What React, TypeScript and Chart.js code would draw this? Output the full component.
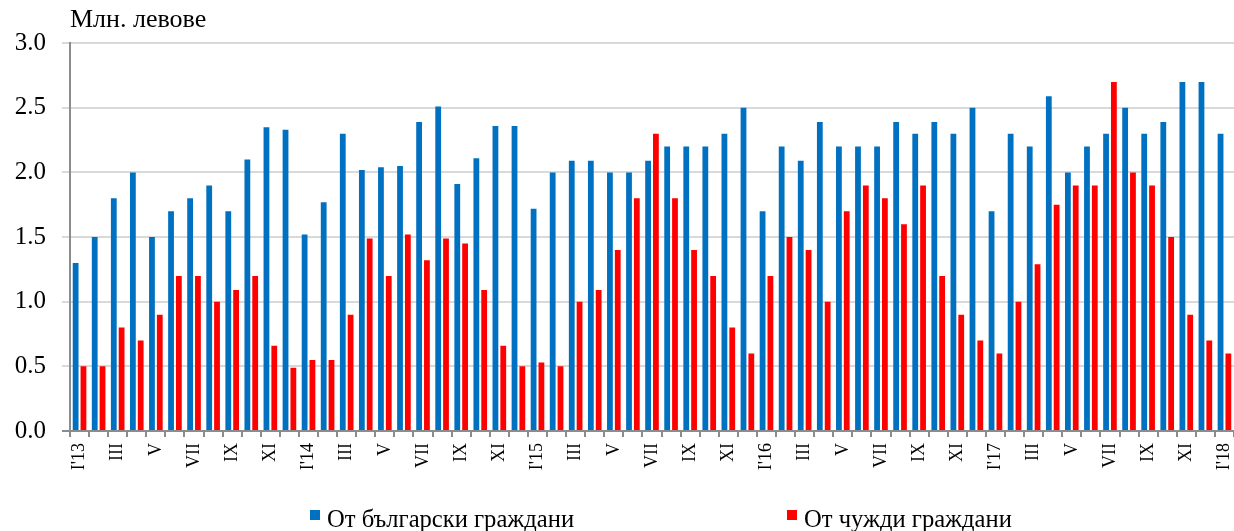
import React, { useEffect, useRef } from 'react';
import { Chart, registerables } from 'chart.js';

Chart.register(...registerables);

// Monthly categories, Jan 2013 – Jan 2018 (labels on every other month)
const tickLabels = [
  "I'13", '', 'III', '', 'V', '', 'VII', '', 'IX', '', 'XI', '',
  "I'14", '', 'III', '', 'V', '', 'VII', '', 'IX', '', 'XI', '',
  "I'15", '', 'III', '', 'V', '', 'VII', '', 'IX', '', 'XI', '',
  "I'16", '', 'III', '', 'V', '', 'VII', '', 'IX', '', 'XI', '',
  "I'17", '', 'III', '', 'V', '', 'VII', '', 'IX', '', 'XI', '',
  "I'18",
];

const bulgarianCitizens = [
  1.3, 1.5, 1.8, 2.0, 1.5, 1.7, 1.8, 1.9, 1.7, 2.1, 2.35, 2.33,
  1.52, 1.77, 2.3, 2.02, 2.04, 2.05, 2.39, 2.51, 1.91, 2.11, 2.36, 2.36,
  1.72, 2.0, 2.09, 2.09, 2.0, 2.0, 2.09, 2.2, 2.2, 2.2, 2.3, 2.5,
  1.7, 2.2, 2.09, 2.39, 2.2, 2.2, 2.2, 2.39, 2.3, 2.39, 2.3, 2.5,
  1.7, 2.3, 2.2, 2.59, 2.0, 2.2, 2.3, 2.5, 2.3, 2.39, 2.7, 2.7,
  2.3,
];

const foreignCitizens = [
  0.5, 0.5, 0.8, 0.7, 0.9, 1.2, 1.2, 1.0, 1.09, 1.2, 0.66, 0.49,
  0.55, 0.55, 0.9, 1.49, 1.2, 1.52, 1.32, 1.49, 1.45, 1.09, 0.66, 0.5,
  0.53, 0.5, 1.0, 1.09, 1.4, 1.8, 2.3, 1.8, 1.4, 1.2, 0.8, 0.6,
  1.2, 1.5, 1.4, 1.0, 1.7, 1.9, 1.8, 1.6, 1.9, 1.2, 0.9, 0.7,
  0.6, 1.0, 1.29, 1.75, 1.9, 1.9, 2.7, 2.0, 1.9, 1.5, 0.9, 0.7,
  0.6,
];

const seriesNames = ['От български граждани', 'От чужди граждани'];
const seriesColors = ['#0070C0', '#FF0000'];
const axisTitle = 'Млн. левове';

const FONT = '"Liberation Serif", "Times New Roman", serif';

const bottomLegend = {
  id: 'bottomLegend',
  afterDraw(chart: any, _args: any, opts: any) {
    const ctx = chart.ctx;
    ctx.save();
    ctx.font = `${opts.size}px ${FONT}`;
    ctx.textBaseline = 'alphabetic';
    ctx.textAlign = 'left';
    chart.data.datasets.forEach((ds: any, i: number) => {
      const x = opts.xs[i];
      ctx.fillStyle = ds.backgroundColor;
      ctx.fillRect(x, opts.boxTop, opts.box, opts.box);
      ctx.fillStyle = '#000';
      ctx.fillText(ds.label, x + opts.box + opts.gap, opts.baseline);
    });
    ctx.restore();
  },
};

export default function App() {
  const canvasRef = useRef<HTMLCanvasElement | null>(null);

  useEffect(() => {
    if (!canvasRef.current) return;
    Chart.defaults.font.family = FONT;
    Chart.defaults.color = '#000';

    const chart = new Chart(canvasRef.current, {
      type: 'bar',
      data: {
        labels: tickLabels,
        datasets: [
          {
            label: seriesNames[0],
            data: bulgarianCitizens,
            backgroundColor: seriesColors[0],
            categoryPercentage: 0.82,
            barPercentage: 0.74,
          },
          {
            label: seriesNames[1],
            data: foreignCitizens,
            backgroundColor: seriesColors[1],
            categoryPercentage: 0.82,
            barPercentage: 0.74,
          },
        ],
      },
      options: {
        responsive: false,
        animation: false,
        layout: { padding: { top: 0, left: 0, right: 0, bottom: 60 } },
        plugins: {
          legend: { display: false },
          tooltip: { enabled: false },
          title: {
            display: true,
            text: axisTitle,
            align: 'start',
            fullSize: false,
            color: '#000',
            font: { size: 26, weight: 'normal', family: FONT },
            padding: { top: 5, bottom: 7 },
          },
          bottomLegend: {
            xs: [310, 787],
            boxTop: 510,
            box: 10,
            gap: 7,
            baseline: 527,
            size: 24.6,
          },
        } as any,
        scales: {
          x: {
            offset: true,
            grid: {
              display: true,
              offset: true,
              drawOnChartArea: false,
              drawTicks: true,
              tickLength: 6,
              color: '#8c8c8c',
              lineWidth: 2,
            },
            border: { display: true, color: '#8c8c8c', width: 2 },
            ticks: {
              autoSkip: false,
              minRotation: 90,
              maxRotation: 90,
              padding: 6,
              color: '#000',
              font: { size: 18, family: FONT },
            },
            afterFit: (scale: any) => {
              scale.height = 40;
              scale.paddingLeft = 0;
              scale.paddingRight = 0;
            },
          },
          y: {
            min: 0,
            max: 3,
            ticks: {
              stepSize: 0.5,
              padding: 16,
              color: '#000',
              font: { size: 25, family: FONT },
              callback: (v: any) => Number(v).toFixed(1),
            },
            grid: {
              color: '#d9d9d9',
              lineWidth: 2,
              tickLength: 8,
              tickColor: (c: any) => (c.tick && c.tick.value === 0 ? '#8c8c8c' : '#d9d9d9'),
            },
            border: { display: true, color: '#8c8c8c', width: 2 },
            afterFit: (scale: any) => {
              scale.width = 70;
              scale.paddingTop = 0;
              scale.paddingBottom = 0;
            },
          },
        },
      },
      plugins: [bottomLegend],
    });

    return () => {
      chart.destroy();
    };
  }, []);

  return (
    <div style={{ position: 'absolute', left: 0, top: 0, width: 1234, height: 531, background: '#fff' }}>
      <canvas ref={canvasRef} width={1234} height={531} style={{ display: 'block' }} />
    </div>
  );
}
